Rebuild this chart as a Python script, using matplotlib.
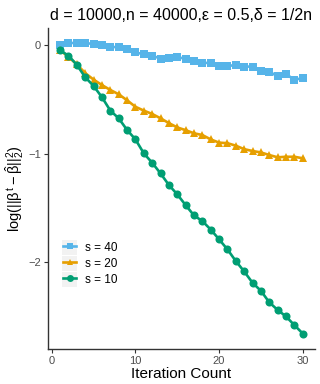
import matplotlib
matplotlib.use("Agg")
import matplotlib.pyplot as plt
from matplotlib.patches import Rectangle
from matplotlib.transforms import IdentityTransform

plt.rcParams['font.family'] = ['Liberation Sans', 'DejaVu Sans']
plt.rcParams['mathtext.fontset'] = 'custom'
plt.rcParams['mathtext.rm'] = 'Liberation Sans'
plt.rcParams['mathtext.it'] = 'Liberation Sans'

iterations = list(range(1, 31))
s40 = [0.0, 0.015, 0.02, 0.015, 0.01, 0.0, -0.02, -0.02, -0.04, -0.07,
       -0.086, -0.10, -0.126, -0.12, -0.115, -0.126, -0.148, -0.166, -0.166, -0.19,
       -0.196, -0.184, -0.2, -0.2, -0.237, -0.246, -0.29, -0.27, -0.32, -0.307]
s20 = [-0.05, -0.11, -0.18, -0.26, -0.32, -0.37, -0.415, -0.455, -0.51, -0.57,
       -0.605, -0.636, -0.676, -0.72, -0.76, -0.785, -0.814, -0.83, -0.87, -0.90,
       -0.905, -0.928, -0.96, -0.977, -0.99, -1.014, -1.035, -1.03, -1.03, -1.044]
s10 = [-0.05, -0.10, -0.184, -0.298, -0.378, -0.482, -0.605, -0.676, -0.783, -0.87,
       -0.998, -1.085, -1.183, -1.29, -1.376, -1.475, -1.57, -1.622, -1.70, -1.79,
       -1.883, -1.99, -2.086, -2.19, -2.264, -2.37, -2.44, -2.50, -2.58, -2.657]
labels = ['s = 40', 's = 20', 's = 10']
colors = ['#56B4E9', '#E69F00', '#009E73']
markers = ['s', '^', 'o']
xticks = [0, 10, 20, 30]
yticks = [0, -1, -2]
ytick_labels = ['0', '\u22121', '\u22122']

fig = plt.figure(figsize=(3.2, 3.84), dpi=100)
ax = fig.add_axes([0.15, 0.091, 0.834, 0.836])

for ys, lab, c, m in zip([s40, s20, s10], labels, colors, markers):
    ax.plot(iterations, ys, color=c, lw=1.9, marker=m, ms=5.8, label=lab,
            markeredgewidth=0)

ax.set_xlim(-0.45, 31.45)
ax.set_ylim(-2.8, 0.155)
ax.set_xticks(xticks)
ax.set_yticks(yticks)
ax.set_yticklabels(ytick_labels)
for s in ['top', 'right']:
    ax.spines[s].set_visible(False)
for s in ['left', 'bottom']:
    ax.spines[s].set_color('#333333')
    ax.spines[s].set_linewidth(1.0)
ax.tick_params(axis='both', colors='#333333', labelcolor='#4D4D4D',
               labelsize=8, length=3, width=0.8, pad=2)

ax.set_xlabel('Iteration Count', fontsize=11, labelpad=1)
ax.set_ylabel(r'$\mathrm{log}(||\beta^{t}-\hat{\beta}||_{2}^{2})$', fontsize=10.5, labelpad=2)
ax.set_title('d = 10000,n = 40000,\u03b5 = 0.5,\u03b4 = 1/2n', fontsize=11.5, pad=6)

leg = ax.legend(loc='upper left', bbox_to_anchor=(0.04, 0.35), frameon=False,
                fontsize=8.5, handlelength=1.1, handleheight=1.0, labelspacing=0.32,
                handletextpad=0.75, borderaxespad=0)
for h in leg.legend_handles:
    h.set_markersize(5)

fig.canvas.draw()
renderer = fig.canvas.get_renderer()
texts = leg.get_texts()
for h, t in zip(leg.legend_handles, texts):
    hb = h.get_window_extent(renderer)
    tb = t.get_window_extent(renderer)
    cx = (hb.x0 + hb.x1) / 2
    cy = (tb.y0 + tb.y1) / 2
    w = 15
    r = Rectangle((cx - w / 2, cy - w / 2), w, w, transform=IdentityTransform(),
                  facecolor='#F2F2F2', edgecolor='none', zorder=1)
    ax.add_artist(r)

plt.savefig('out.png', dpi=100)
